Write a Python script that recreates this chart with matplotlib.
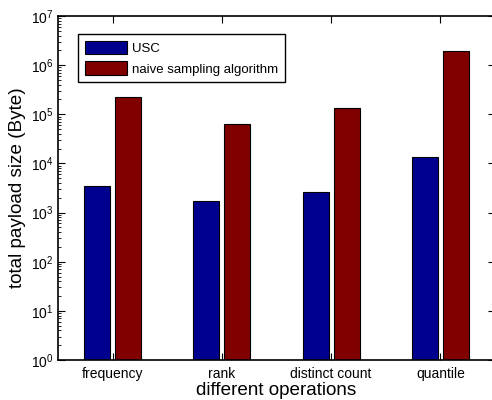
import numpy as np
import matplotlib.pyplot as plt
from matplotlib.ticker import LogLocator, NullFormatter

plt.rcParams['font.family'] = ['Liberation Sans', 'DejaVu Sans']

operations = ["frequency", "rank", "distinct count", "quantile"]
usc = [3500, 1740, 2600, 13400]
naive = [220000, 63000, 134000, 1960000]

fig = plt.figure(figsize=(4.92, 4.0), dpi=100)
ax = fig.add_axes([58 / 492, 40 / 400, 437 / 492, 344 / 400])

x = np.arange(1, len(operations) + 1)
w = 0.24
off = 0.142
ax.bar(x - off, usc, w, color="#00008f", edgecolor="black", linewidth=0.8,
       label="USC")
ax.bar(x + off, naive, w, color="#800000", edgecolor="black", linewidth=0.8,
       label="naive sampling algorithm")

ax.set_yscale("log")
ax.set_ylim(1, 1e7)
ax.set_xlim(0.5, 4.5)
ax.set_xticks(x)
ax.set_xticklabels(operations, fontsize=10)
ax.yaxis.set_major_locator(LogLocator(base=10, numticks=10))
ax.yaxis.set_minor_locator(LogLocator(base=10, subs=np.arange(2, 10), numticks=10))
ax.yaxis.set_minor_formatter(NullFormatter())
ax.tick_params(axis="y", labelsize=10)
ax.tick_params(axis="x", pad=5)
ax.tick_params(which="both", direction="in", top=True, right=True)
ax.tick_params(which="major", length=5)
ax.tick_params(which="minor", length=2)
for s in ax.spines.values():
    s.set_linewidth(1.2)

ax.set_xlabel("different operations", fontsize=13.6, labelpad=1)
ax.set_ylabel("total payload size (Byte)", fontsize=13.6, labelpad=3)

leg = ax.legend(loc="upper left", bbox_to_anchor=(20 / 437, 1 - 18 / 344),
                fontsize=9.5, fancybox=False, framealpha=1, edgecolor="black",
                handlelength=3.2, handleheight=1.2, handletextpad=0.4,
                borderpad=0.5, borderaxespad=0)
leg.get_frame().set_linewidth(1.0)

fig.savefig("out.png", dpi=100)
